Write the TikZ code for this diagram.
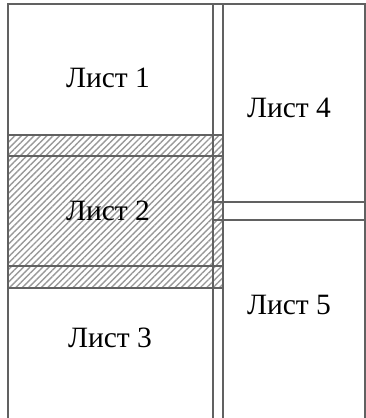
\documentclass[tikz,border=0pt]{standalone}
\usepackage{fontspec}
\setmainfont{Liberation Serif}
\usepackage{tikz}
\usetikzlibrary{patterns.meta}

\begin{document}
\begin{tikzpicture}[
    x=1pt, y=-1pt,
    sheet/.style={
      draw=black!62,
      line width=1.2pt
    },
    glue/.style={
      pattern={Lines[angle=45, distance=4.5pt, line width=1.4pt]},
      pattern color=black!40
    },
    label/.style={
      font=\fontsize{29.5}{34}\selectfont,
      inner sep=0pt
    }
  ]

  \useasboundingbox (0,0) rectangle (366,418);
  \clip (0,0) rectangle (366,418);

  % glued sheet
  \fill[glue] (8,135) rectangle (223,288);

  % left column
  \draw[sheet] (8,4) rectangle (223,156);
  \draw[sheet] (8,135) rectangle (223,288);
  \draw[sheet] (8,266) rectangle (223,430);

  % right column
  \draw[sheet] (213,4) rectangle (365,220);
  \draw[sheet] (213,202) rectangle (365,430);

  \node[label] (L1) at (108,78) {Лист 1};
  \node[label] (L2) at (108,211) {Лист 2};
  \node[label] (L3) at (110,338) {Лист 3};
  \node[label] (L4) at (289,108) {Лист 4};
  \node[label] (L5) at (289,305) {Лист 5};
\end{tikzpicture}
\end{document}
